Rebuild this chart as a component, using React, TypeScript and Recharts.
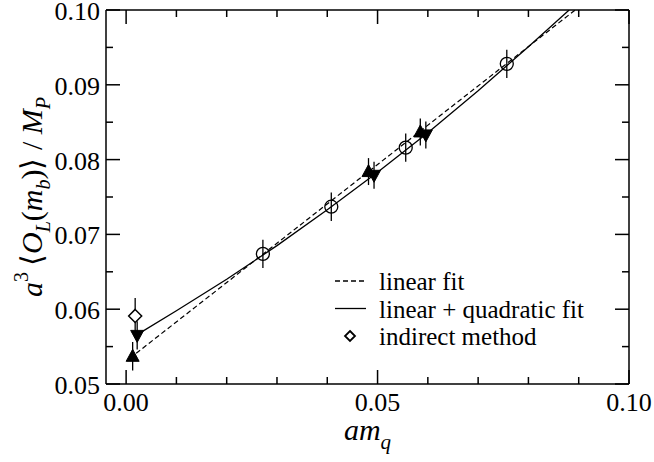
import React from "react";
import {
  ComposedChart,
  Scatter,
  XAxis,
  YAxis,
  ErrorBar,
  Legend,
} from "recharts";

// ---- data ----
const circleX = [0.0272, 0.0408, 0.0556, 0.0757];
const circleY = [0.0674, 0.0737, 0.0816, 0.0928];
const circleErr = [0.0019, 0.0019, 0.0019, 0.0019];

const upX = [0.0013, 0.0482, 0.0585];
const upY = [0.0537, 0.0784, 0.0837];
const upErr = [0.0019, 0.0018, 0.0018];

const downX = [0.0022, 0.0493, 0.0596];
const downY = [0.0565, 0.0779, 0.0833];
const downErr = [0.0019, 0.0018, 0.0018];

const diamondX = [0.0018];
const diamondY = [0.0591];
const diamondErr = [0.0024];

const linFitX = [0.002, 0.0893];
const linFitY = [0.0541, 0.1];

const quadFitX = [0.0022, 0.01, 0.02, 0.03, 0.04, 0.05, 0.06, 0.07, 0.08, 0.0881];
const quadFitY = [0.0566, 0.0598, 0.064, 0.0685, 0.0733, 0.0783, 0.0836, 0.0892, 0.0951, 0.1];

const xTicks = [0, 0.01, 0.02, 0.03, 0.04, 0.05, 0.06, 0.07, 0.08, 0.09, 0.1];
const xMajor = [0, 0.05, 0.1];
const xTickLabels = ["0.00", "0.05", "0.10"];
const yTicks = [0.05, 0.055, 0.06, 0.065, 0.07, 0.075, 0.08, 0.085, 0.09, 0.095, 0.1];
const yMajor = [0.05, 0.06, 0.07, 0.08, 0.09, 0.1];
const yTickLabels = ["0.05", "0.06", "0.07", "0.08", "0.09", "0.10"];

const legendLabels = ["linear fit", "linear + quadratic fit", "indirect method"];

// ---- helpers ----
const zip3 = (xs: number[], ys: number[], es?: number[]) =>
  xs.map((x, i) => ({ x, y: ys[i], e: es ? es[i] : 0 }));

const circles = zip3(circleX, circleY, circleErr);
const ups = zip3(upX, upY, upErr);
const downs = zip3(downX, downY, downErr);
const diamonds = zip3(diamondX, diamondY, diamondErr);
const linFit = zip3(linFitX, linFitY);
const quadFit = zip3(quadFitX, quadFitY);

const FONT = "'Liberation Serif', 'Times New Roman', serif";
const STROKE = "#000";

const majorIndex = (v: number, majors: number[]) =>
  majors.findIndex((m) => Math.abs(m - v) < 1e-9);

const MAJ = 14;
const MIN = 7;

const BottomTick = (p: any) => {
  const { x, y, payload } = p;
  const idx = majorIndex(payload.value, xMajor);
  const len = idx >= 0 ? MAJ : MIN;
  return (
    <g>
      <line x1={x} x2={x} y1={y} y2={y - len} stroke={STROKE} strokeWidth={1.5} />
      {idx >= 0 && (
        <text x={x} y={y + 27} textAnchor="middle" fontSize={26} fontFamily={FONT} fill="#000">
          {xTickLabels[idx]}
        </text>
      )}
    </g>
  );
};

const TopTick = (p: any) => {
  const { x, y, payload } = p;
  const idx = majorIndex(payload.value, xMajor);
  const len = idx >= 0 ? MAJ : MIN;
  return <line x1={x} x2={x} y1={y} y2={y + len} stroke={STROKE} strokeWidth={1.5} />;
};

const LeftTick = (p: any) => {
  const { x, y, payload } = p;
  const idx = majorIndex(payload.value, yMajor);
  const len = idx >= 0 ? MAJ : MIN;
  return (
    <g>
      <line x1={x} x2={x + len} y1={y} y2={y} stroke={STROKE} strokeWidth={1.5} />
      {idx >= 0 && (
        <text x={x - 6} y={y + 10} textAnchor="end" fontSize={26} fontFamily={FONT} fill="#000">
          {yTickLabels[idx]}
        </text>
      )}
    </g>
  );
};

const RightTick = (p: any) => {
  const { x, y, payload } = p;
  const idx = majorIndex(payload.value, yMajor);
  const len = idx >= 0 ? MAJ : MIN;
  return <line x1={x} x2={x - len} y1={y} y2={y} stroke={STROKE} strokeWidth={1.5} />;
};

const XLabel = (p: any) => {
  const vb = p.viewBox || { x: 106, y: 384, width: 523 };
  const cx = vb.x + vb.width / 2;
  const by = vb.y + 56;
  return (
    <text x={cx} y={by} textAnchor="middle" fontFamily={FONT} fill="#000">
      <tspan fontStyle="italic" fontSize={30}>am</tspan>
      <tspan fontStyle="italic" fontSize={21} dy={9}>q</tspan>
    </text>
  );
};

const YLabel = (p: any) => {
  const vb = p.viewBox || { x: 105, y: 10, height: 374, width: 1 };
  const bx = vb.x + (vb.width || 0) - 64;
  const cy = vb.y + vb.height / 2;
  return (
    <text
      x={bx}
      y={cy}
      textAnchor="middle"
      fontFamily={FONT}
      fill="#000"
      transform={`rotate(-90, ${bx}, ${cy})`}
    >
      <tspan fontStyle="italic" fontSize={30}>a</tspan>
      <tspan fontSize={20} dy={-14}>3</tspan>
      <tspan fontSize={30} dy={14}>{"\u2009\u27E8"}</tspan>
      <tspan fontStyle="italic" fontSize={30}>O</tspan>
      <tspan fontStyle="italic" fontSize={20} dy={8}>L</tspan>
      <tspan fontSize={30} dy={-8}>(</tspan>
      <tspan fontStyle="italic" fontSize={30}>m</tspan>
      <tspan fontStyle="italic" fontSize={20} dy={8}>b</tspan>
      <tspan fontSize={30} dy={-8}>{")\u27E9 / "}</tspan>
      <tspan fontStyle="italic" fontSize={30}>M</tspan>
      <tspan fontStyle="italic" fontSize={20} dy={8}>P</tspan>
    </text>
  );
};

const CircleShape = (p: any) => (
  <circle cx={p.cx} cy={p.cy} r={6.5} fill="none" stroke={STROKE} strokeWidth={1.3} />
);

const UpShape = (p: any) => {
  const { cx, cy } = p;
  return (
    <path
      d={`M${cx},${cy - 7} L${cx + 6.5},${cy + 5} L${cx - 6.5},${cy + 5} Z`}
      fill={STROKE}
      stroke={STROKE}
      strokeWidth={1}
    />
  );
};

const DownShape = (p: any) => {
  const { cx, cy } = p;
  return (
    <path
      d={`M${cx},${cy + 7} L${cx + 6.5},${cy - 5} L${cx - 6.5},${cy - 5} Z`}
      fill={STROKE}
      stroke={STROKE}
      strokeWidth={1}
    />
  );
};

const DiamondShape = (p: any) => {
  const { cx, cy } = p;
  return (
    <path
      d={`M${cx},${cy - 6.5} L${cx + 6.5},${cy} L${cx},${cy + 6.5} L${cx - 6.5},${cy} Z`}
      fill="#fff"
      stroke={STROKE}
      strokeWidth={1.5}
    />
  );
};

const NoShape = () => <g />;

const LegendContent = () => {
  const rowY = [12, 39.5, 67];
  return (
    <svg width={300} height={90} style={{ overflow: "visible", display: "block" }}>
      <line x1={5} x2={37} y1={rowY[0]} y2={rowY[0]} stroke={STROKE} strokeWidth={1.3} strokeDasharray="5 3" />
      <line x1={5} x2={36} y1={rowY[1]} y2={rowY[1]} stroke={STROKE} strokeWidth={1.3} />
      <path
        d={`M20,${rowY[2] - 5} L25,${rowY[2]} L20,${rowY[2] + 5} L15,${rowY[2]} Z`}
        fill="#fff"
        stroke={STROKE}
        strokeWidth={1.8}
      />
      {legendLabels.map((t, i) => (
        <text key={t} x={49} y={rowY[i] + 9} fontSize={25} fontFamily={FONT} fill="#000">
          {t}
        </text>
      ))}
    </svg>
  );
};

export default function App() {
  return (
    <div style={{ position: "absolute", left: 0, top: 0, width: 654, height: 462, background: "#fff" }}>
      <ComposedChart
        width={654}
        height={462}
        margin={{ top: 9, right: 24, bottom: 77, left: 105 }}
        style={{ fontFamily: FONT }}
      >
        <XAxis
          xAxisId="b"
          dataKey="x"
          type="number"
          orientation="bottom"
          domain={[-0.004, 0.1]}
          allowDataOverflow
          ticks={xTicks}
          interval={0}
          height={1}
          tickSize={0}
          tickMargin={0}
          tickLine={false}
          tick={<BottomTick />}
          axisLine={{ stroke: STROKE, strokeWidth: 1.5 }}
          label={{ content: <XLabel /> }}
        />
        <XAxis
          xAxisId="t"
          dataKey="x"
          type="number"
          orientation="top"
          domain={[-0.004, 0.1]}
          allowDataOverflow
          ticks={xTicks}
          interval={0}
          height={1}
          tickSize={0}
          tickMargin={0}
          tickLine={false}
          tick={<TopTick />}
          axisLine={{ stroke: STROKE, strokeWidth: 1.5 }}
        />
        <YAxis
          yAxisId="l"
          dataKey="y"
          type="number"
          orientation="left"
          domain={[0.05, 0.1]}
          allowDataOverflow
          ticks={yTicks}
          interval={0}
          width={1}
          tickSize={0}
          tickMargin={0}
          tickLine={false}
          tick={<LeftTick />}
          axisLine={{ stroke: STROKE, strokeWidth: 1.5 }}
          label={{ content: <YLabel /> }}
        />
        <YAxis
          yAxisId="r"
          dataKey="y"
          type="number"
          orientation="right"
          domain={[0.05, 0.1]}
          allowDataOverflow
          ticks={yTicks}
          interval={0}
          width={1}
          tickSize={0}
          tickMargin={0}
          tickLine={false}
          tick={<RightTick />}
          axisLine={{ stroke: STROKE, strokeWidth: 1.5 }}
        />
        <Scatter
          xAxisId="b"
          yAxisId="l"
          data={linFit}
          dataKey="y"
          line={{ stroke: STROKE, strokeWidth: 1.2, strokeDasharray: "5 3" }}
          lineJointType="linear"
          shape={<NoShape />}
          isAnimationActive={false}
          legendType="none"
        />
        <Scatter
          xAxisId="b"
          yAxisId="l"
          data={quadFit}
          dataKey="y"
          line={{ stroke: STROKE, strokeWidth: 1.3 }}
          lineJointType="linear"
          shape={<NoShape />}
          isAnimationActive={false}
          legendType="none"
        />
        <Scatter xAxisId="b" yAxisId="l" data={circles} dataKey="y" shape={<CircleShape />} isAnimationActive={false}>
          <ErrorBar dataKey="e" direction="y" width={0} stroke={STROKE} strokeWidth={1.3} isAnimationActive={false} />
        </Scatter>
        <Scatter xAxisId="b" yAxisId="l" data={diamonds} dataKey="y" shape={<DiamondShape />} isAnimationActive={false}>
          <ErrorBar dataKey="e" direction="y" width={0} stroke={STROKE} strokeWidth={1.3} isAnimationActive={false} />
        </Scatter>
        <Scatter xAxisId="b" yAxisId="l" data={ups} dataKey="y" shape={<UpShape />} isAnimationActive={false}>
          <ErrorBar dataKey="e" direction="y" width={0} stroke={STROKE} strokeWidth={1.3} isAnimationActive={false} />
        </Scatter>
        <Scatter xAxisId="b" yAxisId="l" data={downs} dataKey="y" shape={<DownShape />} isAnimationActive={false}>
          <ErrorBar dataKey="e" direction="y" width={0} stroke={STROKE} strokeWidth={1.3} isAnimationActive={false} />
        </Scatter>
        <Legend
          layout="vertical"
          align="center"
          verticalAlign="middle"
          content={<LegendContent />}
          wrapperStyle={{ position: "absolute", left: 330, top: 269, width: 300, height: 90 }}
        />
      </ComposedChart>
    </div>
  );
}
